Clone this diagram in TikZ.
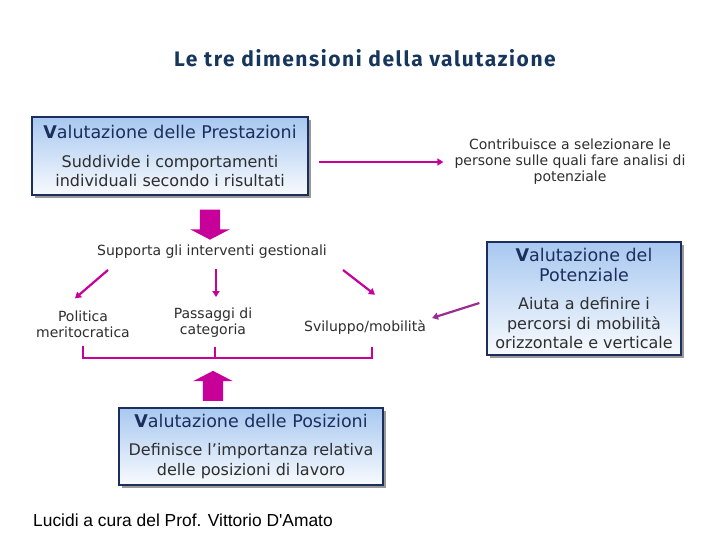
\documentclass[tikz,border=0pt]{standalone}
\usepackage{fontspec}
\setmainfont{DejaVu Sans}
\newfontfamily\titlefont[LetterSpace=7.5]{Fira Sans}
\newfontfamily\footfont{Liberation Sans}
\usetikzlibrary{arrows.meta,shapes.arrows,shadows}
\definecolor{cmag}{HTML}{C8009A}
\definecolor{cplum}{HTML}{9B2D8E}
\definecolor{cnavy}{HTML}{1B2E5C}
\definecolor{cbox}{HTML}{A8C8F0}
\definecolor{ctext}{HTML}{2E2E2E}
\definecolor{ctitle}{HTML}{17365D}
\newcommand{\boxhead}[1]{{\color{cnavy}\fontsize{17.5}{18}\selectfont #1}}

\begin{document}
\begin{tikzpicture}[x=1pt,y=-1pt,
  every node/.style={inner sep=0pt,align=center,text=ctext,
    font=\fontsize{14}{16}\selectfont},
  box/.style={draw=cnavy,line width=1.2pt,top color=cbox,bottom color=cbox!8,
    drop shadow={shadow xshift=3pt,shadow yshift=-3pt,fill=black!40,opacity=1},
    font=\fontsize{16}{19.5}\selectfont},
  blockarrow/.style={single arrow,fill=cmag,draw=none,inner sep=10pt,
    minimum height=30pt,single arrow head extend=9.5pt,single arrow tip angle=125},
  link/.style={draw=cmag,line width=2.2pt,-{Triangle[length=6pt,width=7pt]}},
  bar/.style={draw=cmag,line width=2pt}]
  \path[fill=white,use as bounding box] (0,0) rectangle (720,540);
  \node[font=\titlefont\fontsize{21}{24}\selectfont\bfseries,text=ctitle] (tit) at (365,58)
    {Le tre dimensioni della valutazione};
  \node[box,minimum width=276pt,minimum height=78pt] (pre) at (170,156) {%
    \boxhead{\textbf{V}alutazione delle Prestazioni}\\[9pt]
    Suddivide i comportamenti\\individuali secondo i risultati};
  \node (con) at (570,162) {Contribuisce a selezionare le\\
    persone sulle quali fare analisi di\\potenziale};
  \node[blockarrow,shape border rotate=270] (dn) at (210,222) {};
  \node (sup) at (212,252) {Supporta gli interventi gestionali};
  \node (pol) at (83,324) {Politica\\meritocratica};
  \node (pas) at (213,323) {Passaggi di\\categoria};
  \node (svi) at (365,327) {Sviluppo/mobilità};
  \node[box,minimum width=194pt,minimum height=113pt] (pot) at (584,298.5) {%
    \boxhead{\textbf{V}alutazione del}\\\boxhead{Potenziale}\\[9pt]
    Aiuta a definire i\\percorsi di mobilità\\orizzontale e verticale};
  \node[blockarrow,shape border rotate=90] (up) at (213,388.5) {};
  \node[box,minimum width=264pt,minimum height=77pt] (pos) at (251,446.5) {%
    \boxhead{\textbf{V}alutazione delle Posizioni}\\[9pt]
    Definisce l’importanza relativa\\delle posizioni di lavoro};
  \node[font=\footfont\fontsize{17.4}{20}\selectfont,text=black,anchor=west] (luc) at (33,520)
    {Lucidi a cura del Prof. Vittorio D'Amato};
  \draw[link] ([xshift=10pt,yshift=-6pt]pre.east) -- ([xshift=-11pt]con.west);
  \draw[link] ([xshift=-104pt,yshift=-11pt]sup.south) -- ([xshift=-8pt,yshift=12pt]pol.north);
  \draw[link] ([xshift=4pt,yshift=-10pt]sup.south) -- ([xshift=3pt,yshift=11pt]pas.north);
  \draw[link] ([xshift=131pt,yshift=-11pt]sup.south) -- ([xshift=10pt,yshift=25pt]svi.north);
  \draw[link,draw=cplum] ([xshift=-7pt,yshift=-4.5pt]pot.west) -- ([xshift=6pt,yshift=9pt]svi.east);
  \draw[bar] ([yshift=-8pt]pol.south) -- ([yshift=-20pt]pol.south)
    -| ([xshift=7pt,yshift=-13pt]svi.south);
  \draw[bar] ([xshift=2pt,yshift=-9pt]pas.south) -- ++(0,12);
\end{tikzpicture}
\end{document}
